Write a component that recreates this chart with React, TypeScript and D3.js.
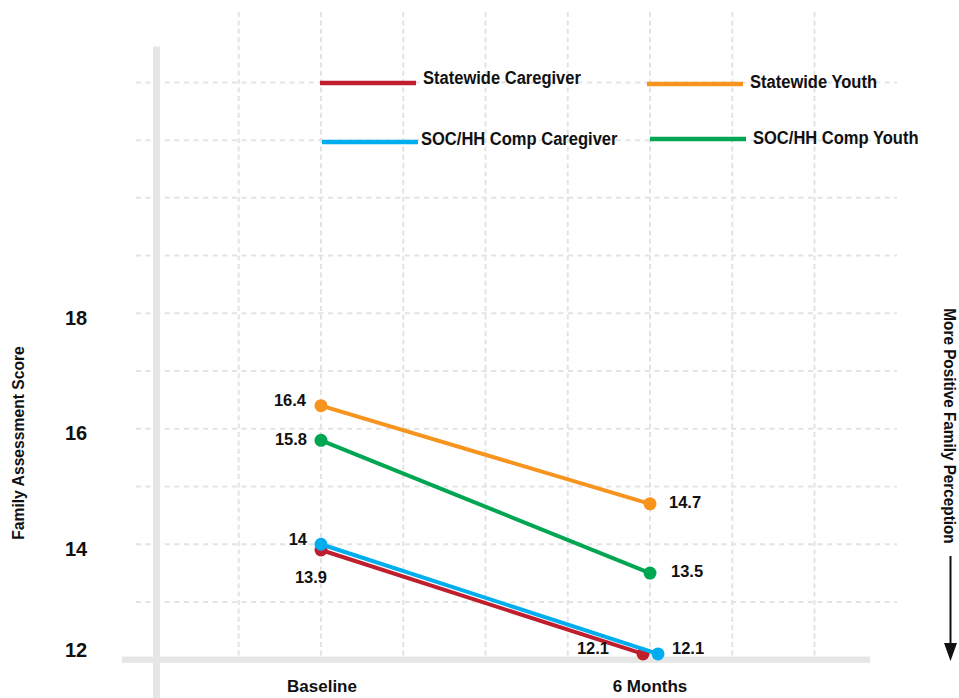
import React from "react";
import * as d3 from "d3";

const categories = ["Baseline", "6 Months"];
const seriesNames = ["Statewide Caregiver", "Statewide Youth", "SOC/HH Comp Caregiver", "SOC/HH Comp Youth"];
const statewideCaregiver = [13.9, 12.1];
const statewideYouth = [16.4, 14.7];
const socCaregiver = [14, 12.1];
const socYouth = [15.8, 13.5];
const yTickLabels = [12, 14, 16, 18];
const seriesColors = ["#BE1E2D", "#F7941D", "#00AEEF", "#00A651"];

const W = 959;
const H = 698;
const FONT = "'Liberation Sans', Arial, Helvetica, sans-serif";

export default function App() {
  const y = d3.scaleLinear().domain([12, 22]).range([659.7, 82.4]);
  const x = d3.scaleLinear().domain([0, 1]).range([321, 650]);
  const values = [statewideCaregiver, statewideYouth, socCaregiver, socYouth];

  // layout-only settings per series: x nudge at each category, label placement
  const nudge = [[0, -7], [0, 0], [0, 8], [0, 0]];
  const labelCfg = [
    [{ dx: -10, dy: 29, anchor: "middle" }, { dx: -34, dy: -4, anchor: "end" }],
    [{ dx: -15, dy: -4, anchor: "end" }, { dx: 19, dy: 0, anchor: "start" }],
    [{ dx: -14, dy: -4, anchor: "end" }, { dx: 14, dy: -4, anchor: "start" }],
    [{ dx: -14, dy: 0, anchor: "end" }, { dx: 21, dy: 0, anchor: "start" }],
  ];
  const drawOrder = [1, 3, 0, 2];

  const hGrid = d3.range(13, 23);
  const vGrid = d3.range(-0.25, 1.51, 0.25);
  const line = d3.line<[number, number]>().x((d) => d[0]).y((d) => d[1]);

  const legendPos = [
    { x: 320, y: 83, tx: 423, ty: 79 },
    { x: 647, y: 84, tx: 750, ty: 83 },
    { x: 322, y: 142, tx: 421, ty: 140 },
    { x: 650, y: 139, tx: 753, ty: 139 },
  ];

  return (
    <svg width={W} height={H} style={{ position: "absolute", left: 0, top: 0, background: "#fff" }} fontFamily={FONT}>
      <rect x={0} y={0} width={W} height={H} fill="#fff" />
      {/* grid */}
      {hGrid.map((v) => (
        <line key={"h" + v} x1={136} x2={897} y1={y(v)} y2={y(v)} stroke="#e3e3e3" strokeWidth={2} strokeDasharray="5,4.6" />
      ))}
      {vGrid.map((v, i) => (
        <line key={"v" + i} x1={x(v)} x2={x(v)} y1={12} y2={657} stroke="#e3e3e3" strokeWidth={2} strokeDasharray="5,3.4" />
      ))}
      {/* axis bars */}
      <rect x={153} y={46.5} width={7} height={H - 46.5} fill="#e6e6e6" />
      <rect x={122} y={y(12) - 3.2} width={748} height={6.4} fill="#e6e6e6" />

      {/* y tick labels */}
      {yTickLabels.map((v) => (
        <text key={"t" + v} x={76} y={y(v) + (v === 12 ? -8 : 6)} textAnchor="middle" dominantBaseline="middle" fontSize={20} fontWeight="bold" fill="#111">
          {v}
        </text>
      ))}
      <text transform={`translate(20,443) rotate(-90) scale(0.98,1)`} textAnchor="middle" dominantBaseline="middle" fontSize={16} fontWeight="bold" fill="#111">
        Family Assessment Score
      </text>

      {/* x labels */}
      {categories.map((c, i) => (
        <text key={c} x={x(i) + (i === 0 ? 1 : 0)} y={688} textAnchor="middle" dominantBaseline="middle" fontSize={17} fontWeight="bold" fill="#111">
          {c}
        </text>
      ))}

      {/* series */}
      {drawOrder.map((s) => {
        const pts: [number, number][] = values[s].map((v, i) => [x(i) + nudge[s][i], y(v)]);
        return (
          <g key={seriesNames[s]}>
            <path d={line(pts) || ""} fill="none" stroke={seriesColors[s]} strokeWidth={4} />
            {pts.map((p, i) => (
              <circle key={i} cx={p[0]} cy={p[1]} r={6.5} fill={seriesColors[s]} />
            ))}
          </g>
        );
      })}
      {/* data labels */}
      {values.map((vals, s) =>
        vals.map((v, i) => {
          const cfg = labelCfg[s][i];
          return (
            <text key={s + "-" + i} x={x(i) + nudge[s][i] + cfg.dx} y={y(v) + cfg.dy} textAnchor={cfg.anchor as any} dominantBaseline="middle" fontSize={16.5} fontWeight="bold" fill="#111">
              {v}
            </text>
          );
        })
      )}

      {/* legend */}
      {seriesNames.map((n, s) => (
        <g key={"lg" + n}>
          <line x1={legendPos[s].x} x2={legendPos[s].x + 96} y1={legendPos[s].y} y2={legendPos[s].y} stroke={seriesColors[s]} strokeWidth={4.5} />
          <text transform={`translate(${legendPos[s].tx},${legendPos[s].ty}) scale(0.87,1)`} dominantBaseline="middle" fontSize={19} fontWeight="bold" fill="#111">
            {n}
          </text>
        </g>
      ))}

      {/* right annotation */}
      <text transform={`translate(948,426) rotate(90) scale(0.9,1)`} textAnchor="middle" dominantBaseline="middle" fontSize={17} fontWeight="bold" fill="#111">
        More Positive Family Perception
      </text>
      <line x1={950.5} x2={950.5} y1={556} y2={648} stroke="#111" strokeWidth={2} />
      <path d="M944,643 L957,643 L950.5,661 Z" fill="#111" />
    </svg>
  );
}
